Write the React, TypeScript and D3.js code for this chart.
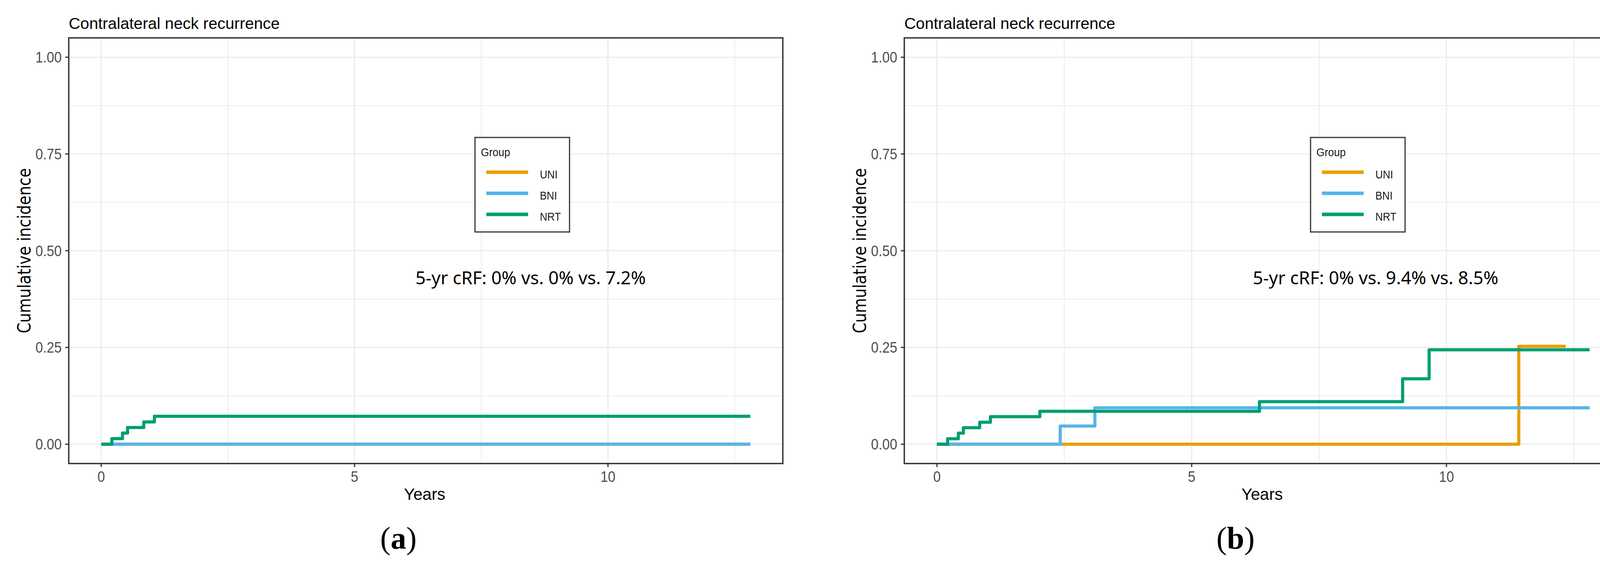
import * as d3 from "d3";

const W = 4194;
const H = 1475;

const chartTitle = "Contralateral neck recurrence";
const xAxisTitle = "Years";
const yAxisTitle = "Cumulative incidence";
const legendTitle = "Group";
const groups = ["UNI", "BNI", "NRT"];
const groupColors = ["#E69F00", "#56B4E9", "#009E73"];

const xTicks = [0, 5, 10];
const yTicks = [0, 0.25, 0.5, 0.75, 1];
const yTickLabels = ["0.00", "0.25", "0.50", "0.75", "1.00"];

// panel (a): step curves, time in years / cumulative incidence
const uniTimeA = [0, 12.81];
const uniCifA = [0, 0];
const bniTimeA = [0, 12.81];
const bniCifA = [0, 0];
const nrtTimeA = [0, 0.21, 0.42, 0.52, 0.84, 1.05, 12.81];
const nrtCifA = [0, 0.0144, 0.0288, 0.0432, 0.0576, 0.072, 0.072];

// panel (b)
const uniTimeB = [0, 11.42, 12.34];
const uniCifB = [0, 0.253, 0.253];
const bniTimeB = [0, 2.42, 3.1, 12.81];
const bniCifB = [0, 0.047, 0.094, 0.094];
const nrtTimeB = [0, 0.21, 0.42, 0.52, 0.84, 1.05, 2.02, 6.33, 9.14, 9.66, 12.81];
const nrtCifB = [0, 0.0142, 0.0284, 0.0426, 0.0568, 0.071, 0.085, 0.11, 0.169, 0.244, 0.244];

const notes = ["5-yr cRF: 0% vs. 0% vs. 7.2%", "5-yr cRF: 0% vs. 9.4% vs. 8.5%"];
const panelTags = ["a", "b"];

const noteAt = { x: 6.2, y: 0.413 };

type Pt = [number, number];

const zip = (t: number[], v: number[]): Pt[] => t.map((d, i) => [d, v[i]]);

const panels = [
  {
    left: 176,
    width: 1828,
    captionX: 1020,
    series: [zip(uniTimeA, uniCifA), zip(bniTimeA, bniCifA), zip(nrtTimeA, nrtCifA)],
    note: notes[0],
    tag: panelTags[0],
  },
  {
    left: 2315,
    width: 1838,
    captionX: 3163,
    series: [zip(uniTimeB, uniCifB), zip(bniTimeB, bniCifB), zip(nrtTimeB, nrtCifB)],
    note: notes[1],
    tag: panelTags[1],
  },
];

const TOP = 97;
const BOTTOM = 1187;

const SANS = "'Liberation Sans', Arial, sans-serif";

type PanelProps = (typeof panels)[number];

function Panel({ left, width, captionX, series, note, tag }: PanelProps) {
  const all = series.flat();
  const xMax = d3.max(all, (d) => d[0])!;
  const xPad = xMax * 0.05;
  const x = d3.scaleLinear().domain([-xPad, xMax + xPad]).range([left, left + width]);
  const y = d3.scaleLinear().domain([-0.05, 1.05]).range([BOTTOM, TOP]);

  const xMinor = xTicks.map((t) => t + 2.5).filter((t) => t < xMax + xPad);
  const yMinor = yTicks.slice(0, -1).map((t) => t + 0.125);

  const stepLine = d3
    .line<Pt>()
    .x((d) => x(d[0]))
    .y((d) => y(d[1]))
    .curve(d3.curveStepAfter);

  const legendX = left + 1040;
  const legendY = 352;

  return (
    <g>
      <text x={left} y={74} fontFamily={SANS} fontSize={41} fill="#000">
        {chartTitle}
      </text>

      {/* grid */}
      {xMinor.map((t) => (
        <line key={"xm" + t} x1={x(t)} x2={x(t)} y1={TOP} y2={BOTTOM} stroke="#EBEBEB" strokeWidth={2} />
      ))}
      {yMinor.map((t) => (
        <line key={"ym" + t} x1={left} x2={left + width} y1={y(t)} y2={y(t)} stroke="#EBEBEB" strokeWidth={2} />
      ))}
      {xTicks.map((t) => (
        <line key={"xg" + t} x1={x(t)} x2={x(t)} y1={TOP} y2={BOTTOM} stroke="#EBEBEB" strokeWidth={3} />
      ))}
      {yTicks.map((t) => (
        <line key={"yg" + t} x1={left} x2={left + width} y1={y(t)} y2={y(t)} stroke="#EBEBEB" strokeWidth={3} />
      ))}

      {/* curves */}
      {series.map((s, i) => (
        <path
          key={groups[i]}
          d={stepLine(s) ?? ""}
          fill="none"
          stroke={groupColors[i]}
          strokeWidth={8}
          strokeLinejoin="round"
        />
      ))}

      {/* annotation */}
      <text x={x(noteAt.x)} y={y(noteAt.y)} fontFamily="'Noto Sans', sans-serif" fontSize={46} fill="#000">
        {note}
      </text>

      {/* legend */}
      <rect x={legendX} y={legendY} width={242} height={242} fill="#fff" stroke="#333" strokeWidth={3} />
      <text
        transform={`translate(${legendX + 15},${legendY + 48}) scale(0.9,1)`}
        fontFamily={SANS}
        fontSize={30}
        fill="#1a1a1a"
      >
        {legendTitle}
      </text>
      {groups.map((g, i) => (
        <g key={g}>
          <line
            x1={legendX + 29}
            x2={legendX + 136}
            y1={legendY + 89 + i * 54}
            y2={legendY + 89 + i * 54}
            stroke={groupColors[i]}
            strokeWidth={9}
          />
          <text
            transform={`translate(${legendX + 166},${legendY + 105 + i * 54}) scale(0.88,1)`}
            fontFamily={SANS}
            fontSize={30}
            fill="#1a1a1a"
          >
            {g}
          </text>
        </g>
      ))}

      {/* panel border */}
      <rect x={left} y={TOP} width={width} height={BOTTOM - TOP} fill="none" stroke="#333" strokeWidth={3.5} />

      {/* y axis */}
      {yTicks.map((t, i) => (
        <g key={"yt" + t}>
          <line x1={left - 9} x2={left} y1={y(t)} y2={y(t)} stroke="#333" strokeWidth={3} />
          <text
            transform={`translate(${left - 18},${y(t)}) scale(0.91,1)`}
            dy="0.36em"
            textAnchor="end"
            fontFamily={SANS}
            fontSize={38}
            fill="#4D4D4D"
          >
            {yTickLabels[i]}
          </text>
        </g>
      ))}
      <text
        transform={`translate(${left - 98},${(TOP + BOTTOM) / 2}) rotate(-90)`}
        textAnchor="middle"
        fontFamily="'DejaVu Sans', Verdana, sans-serif"
        fontSize={46}
        textLength={423}
        lengthAdjust="spacingAndGlyphs"
        fill="#000"
      >
        {yAxisTitle}
      </text>

      {/* x axis */}
      {xTicks.map((t) => (
        <g key={"xt" + t}>
          <line x1={x(t)} x2={x(t)} y1={BOTTOM} y2={BOTTOM + 9} stroke="#333" strokeWidth={3} />
          <text
            transform={`translate(${x(t)},${BOTTOM + 47}) scale(0.91,1)`}
            textAnchor="middle"
            fontFamily={SANS}
            fontSize={38}
            fill="#4D4D4D"
          >
            {t}
          </text>
        </g>
      ))}
      <text x={left + width / 2 - 3} y={1280} textAnchor="middle" fontFamily={SANS} fontSize={42} fill="#000">
        {xAxisTitle}
      </text>

      {/* caption */}
      <text
        x={captionX}
        y={1405}
        textAnchor="middle"
        fontFamily="'Liberation Serif', 'Times New Roman', serif"
        fontSize={80}
        fill="#000"
      >
        (<tspan fontWeight="bold">{tag}</tspan>)
      </text>
    </g>
  );
}

export default function App() {
  return (
    <svg
      width={W}
      height={H}
      viewBox={`0 0 ${W} ${H}`}
      style={{ position: "fixed", left: 0, top: 0, background: "#fff" }}
    >
      <rect width={W} height={H} fill="#fff" />
      {panels.map((p) => (
        <Panel key={p.tag} {...p} />
      ))}
    </svg>
  );
}
